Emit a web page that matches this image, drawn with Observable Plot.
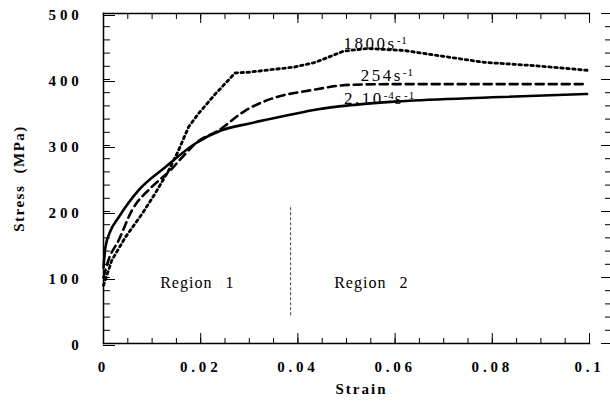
<!DOCTYPE html>
<html>
<head>
<meta charset="utf-8">
<script src="https://cdn.jsdelivr.net/npm/d3@7"></script>
<script src="https://cdn.jsdelivr.net/npm/@observablehq/plot@0.6"></script>
<style>
  html, body { margin: 0; padding: 0; background: #fff; }
  svg { font-family: "Liberation Serif", "DejaVu Serif", serif; }
  g[aria-label="x-axis tick label"] text,
  g[aria-label="y-axis tick label"] text { font-weight: bold; font-size: 15px; letter-spacing: 3.8px; }
  g[aria-label="y-axis label"] text { font-weight: bold; font-size: 15px; letter-spacing: 1.5px; word-spacing: 6px; }
</style>
</head>
<body>
<div id="chart"></div>
<script>
// ---- data ----
const strainSlow = [0, 0.0004, 0.0014, 0.0031, 0.0072, 0.0127, 0.0189, 0.0243, 0.0298, 0.0374, 0.0442, 0.0508, 0.0611, 0.08, 0.0995];
const stressSlow = [115, 146, 170, 191, 232, 267, 303, 323, 333, 345, 355, 361, 367, 373, 378];

const strain254 = [0, 0.001, 0.0031, 0.0058, 0.0099, 0.0137, 0.0168, 0.0189, 0.0237, 0.0292, 0.0346, 0.0429, 0.0508, 0.06, 0.08, 0.0995];
const stress254 = [100, 126, 156, 201, 237, 262, 287, 303, 323, 353, 371, 384, 392, 393, 393, 393];

const strain1800 = [0, 0.0017, 0.0045, 0.0079, 0.0106, 0.0134, 0.0154, 0.0175, 0.0195, 0.023, 0.0271, 0.0298, 0.0394, 0.0436, 0.0494, 0.0543, 0.0618, 0.0783, 0.0886, 0.0995];
const stress1800 = [88, 126, 161, 196, 227, 262, 292, 328, 348, 378, 410, 411, 419, 426, 443, 447, 444, 426, 421, 414];

const curveLabels = ["1800s\u207B\u00B9", "254s\u207B\u00B9", "2.10\u207B\u2074s\u207B\u00B9"];
const curveLabelStrain = [0.056, 0.0584, 0.0568];
const curveLabelStress = [455, 406, 371];

const regionLabels = ["Region 1", "Region 2"];
const regionStrain = [0.0193, 0.0551];
const regionStress = [92, 92];

const boundaryStrain = [0.0385];
const boundaryStress = [42, 209];

const xTicks = [0, 0.02, 0.04, 0.06, 0.08, 0.1];
const xTickLabels = ["0", "0.02", "0.04", "0.06", "0.08", "0.1"];
const yTicks = [0, 100, 200, 300, 400, 500];
const yTickLabels = ["0", "100", "200", "300", "400", "500"];
const xMinor = d3.range(0, 0.1001, 0.005);
const yMinor = d3.range(0, 501, 20);

const mk = (xs, ys) => xs.map((x, i) => ({strain: x, stress: ys[i]}));
const slow = mk(strainSlow, stressSlow);
const mid = mk(strain254, stress254);
const fast = mk(strain1800, stress1800);
const cLabels = curveLabels.map((t, i) => ({t, x: curveLabelStrain[i], y: curveLabelStress[i]}));
const rLabels = regionLabels.map((t, i) => ({t, x: regionStrain[i], y: regionStress[i]}));

const chart = Plot.plot({
  width: 610,
  height: 408,
  marginLeft: 103,
  marginRight: 21,
  marginTop: 13,
  marginBottom: 65,
  x: {domain: [0, 0.1]},
  y: {domain: [0, 500]},
  marks: [
    Plot.frame({anchor: "left", strokeWidth: 1.5}),
    Plot.frame({anchor: "bottom", strokeWidth: 1.5}),
    Plot.frame({anchor: "top", strokeWidth: 1.5}),
    Plot.axisX({anchor: "bottom", ticks: xMinor, tickSize: -5, text: null, label: null}),
    Plot.axisX({anchor: "bottom", ticks: xTicks, tickSize: -10, tickFormat: (d, i) => xTickLabels[i], tickPadding: 28, label: null}),
    Plot.axisX({anchor: "top", ticks: xMinor, tickSize: -5, text: null, label: null}),
    Plot.axisX({anchor: "top", ticks: xTicks, tickSize: -9, text: null, label: null}),
    Plot.axisY({anchor: "left", ticks: yMinor, tickSize: -7, text: null, label: null}),
    Plot.axisY({anchor: "left", ticks: yTicks, tickSize: -12, tickFormat: (d, i) => yTickLabels[i], tickPadding: 33, dy: 2,
      label: "Stress (MPa)", labelAnchor: "center", labelArrow: "none", labelOffset: 90}),
    Plot.axisY({anchor: "right", ticks: yMinor, tickSize: 5, dx: 15, text: null, label: null}),
    Plot.axisY({anchor: "right", ticks: yTicks, tickSize: 9, dx: 11, text: null, label: null}),
    Plot.text(["Strain"], {frameAnchor: "bottom", dy: 50, dx: 15, fill: "black", fontSize: 15, fontWeight: "bold"}),
    Plot.ruleX(boundaryStrain, {y1: boundaryStress[0], y2: boundaryStress[1], stroke: "#444", strokeWidth: 1, strokeDasharray: "3,2"}),
    Plot.line(slow, {x: "strain", y: "stress", stroke: "black", strokeWidth: 2.6, curve: "monotone-x"}),
    Plot.line(mid, {x: "strain", y: "stress", stroke: "black", strokeWidth: 2.6, strokeDasharray: "8,5", curve: "monotone-x"}),
    Plot.line(fast, {x: "strain", y: "stress", stroke: "black", strokeWidth: 2.8, strokeDasharray: "2.5,3.5"}),
    Plot.text(cLabels, {x: "x", y: "y", text: "t", fill: "black", fontSize: 17}),
    Plot.text(rLabels, {x: "x", y: "y", text: "t", fill: "black", fontSize: 16})
  ]
});
// per-mark letter spacing (text marks in order: Strain, curve labels, region labels)
const textGroups = d3.select(chart).selectAll('g[aria-label="text"]').nodes();
const spacing = [["2px", "0px"], ["2.5px", "0px"], ["1px", "8px"]];
textGroups.forEach((g, i) => {
  if (spacing[i]) d3.select(g).style("letter-spacing", spacing[i][0]).style("word-spacing", spacing[i][1]);
});
// render unicode superscripts as real raised tspans
const supMap = {"\u207B": "-", "\u00B9": "1", "\u2074": "4"};
if (textGroups[1]) {
  d3.select(textGroups[1]).selectAll("text").each(function() {
    const s = this.textContent;
    const parts = [];
    for (const ch of s) {
      const sup = ch in supMap;
      const c = sup ? supMap[ch] : ch;
      if (parts.length && parts[parts.length - 1].sup === sup) parts[parts.length - 1].t += c;
      else parts.push({t: c, sup});
    }
    const el = d3.select(this);
    el.text(null);
    parts.forEach(p => {
      const ts = el.append("tspan").text(p.t);
      if (p.sup) ts.attr("font-size", 11).attr("baseline-shift", "45%").style("letter-spacing", "1px");
    });
  });
}
document.getElementById("chart").appendChild(chart);
</script>
</body>
</html>
